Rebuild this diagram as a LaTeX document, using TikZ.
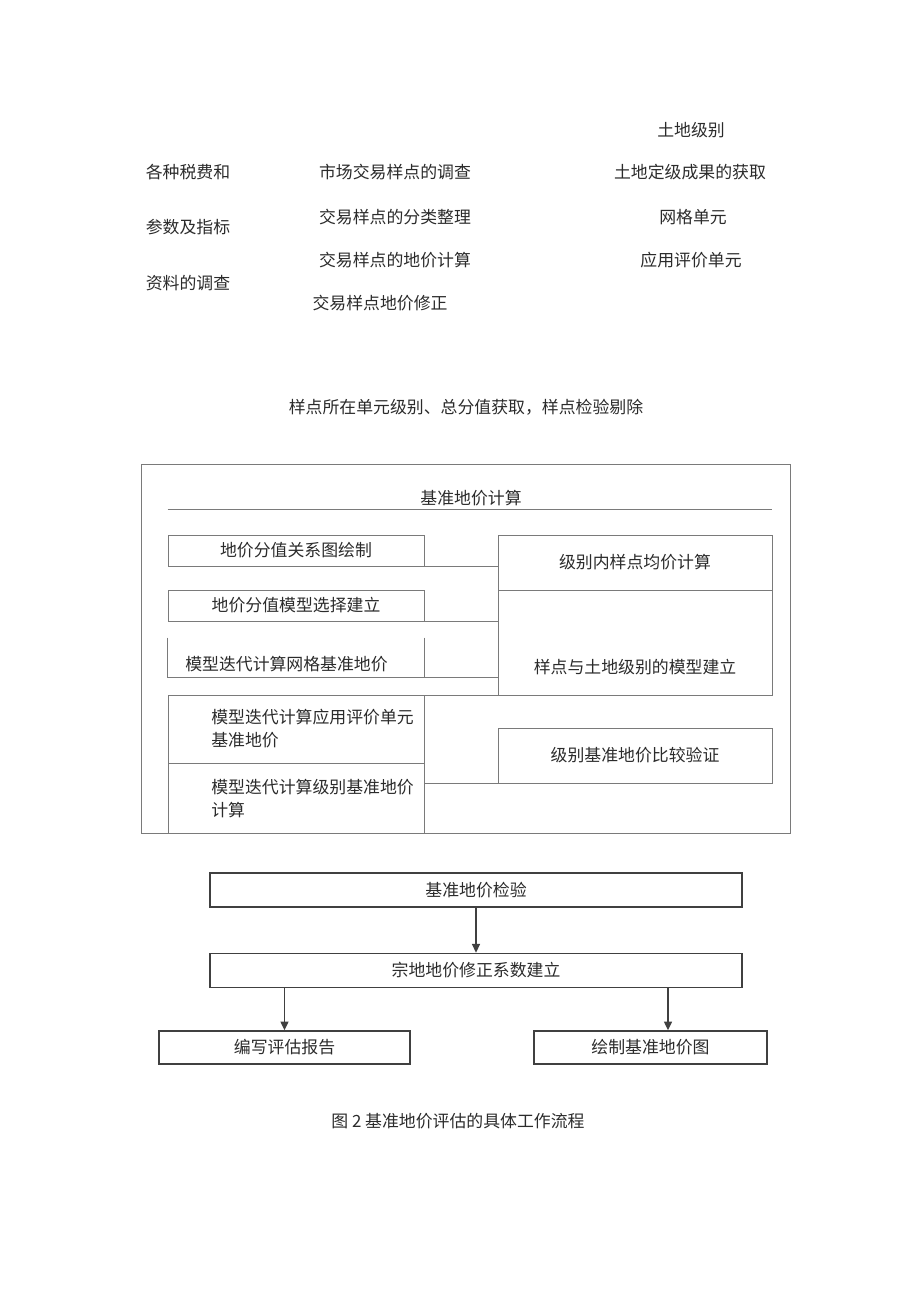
\documentclass[tikz,border=0pt]{standalone}
\usepackage{fontspec}
\setmainfont{Noto Sans CJK SC}
\usetikzlibrary{positioning}
\usetikzlibrary{arrows.meta}
\definecolor{linegray}{HTML}{7A7A7A}
\definecolor{textgray}{HTML}{2B2B2B}
\definecolor{boxgray}{HTML}{404040}
\tikzset{
  plain/.style={inner sep=0pt, text=textgray, font=\fontsize{12}{16.4}\selectfont},
  cell/.style={plain, draw=linegray, line width=0.6pt, rectangle},
  leftcell/.style={cell, minimum width=6.4cm},
  rightcell/.style={cell, minimum width=6.85cm},
  thinline/.style={draw=linegray, line width=0.6pt},
  flowbox/.style={plain, draw=boxgray, line width=1pt, rectangle, minimum height=0.85cm},
  flowarrow/.style={->, draw=boxgray, line width=1.1pt}
}
\begin{document}
\begin{tikzpicture}[x=0.025cm, y=-0.025cm, >={Triangle[width=0.2cm,length=0.22cm]}]
\useasboundingbox (0,0) rectangle (920,1303);
% preparation
\node[plain](lvl) at (691,130){土地级别};
\node[plain](fee1) at (188,172){各种税费和};
\node[plain](fee2) at (188,227){参数及指标};
\node[plain](fee3) at (188,283){资料的调查};
\node[plain](mkt1) at (395,172){市场交易样点的调查};
\node[plain](mkt2) at (395,217){交易样点的分类整理};
\node[plain](mkt3) at (395,260){交易样点的地价计算};
\node[plain](mkt4) at (380,303){交易样点地价修正};
\node[plain](res1) at (690,172){土地定级成果的获取};
\node[plain](res2) at (693,217){网格单元};
\node[plain](res3) at (691,260){应用评价单元};
\node[plain](pick) at (466,407){样点所在单元级别、总分值获取，样点检验剔除};
% calculation frame
\node[cell, minimum width=16.2cm, minimum height=9.225cm](frame) at (466,648.5){};
\node[plain](calc) at (471,498){基准地价计算};
\node[leftcell, minimum height=0.775cm](b1) at (296,550.5){地价分值关系图绘制};
\node[leftcell, minimum height=0.775cm](b2) at (296,605.5){地价分值模型选择建立};
\node[plain, minimum width=6.4cm, minimum height=0.975cm, text height=0.65cm, text depth=0pt](b3) at (296,657.5){模型迭代计算网格基准地价\hspace*{0.475cm}};
\node[leftcell, minimum height=1.7cm, align=left](b4) at (296,729){\hspace*{0.825cm}模型迭代计算应用评价单元\\\hspace*{0.825cm}基准地价};
\node[leftcell, minimum height=1.75cm, align=left](b5)[below=0pt of b4]{\hspace*{0.825cm}模型迭代计算级别基准地价\\\hspace*{0.825cm}计算};
\node[rightcell, minimum height=1.375cm](r1) at (635,562.5){级别内样点均价计算};
\node[rightcell, minimum height=2.625cm, text height=1.55cm, text depth=0pt](r2) at (635,642.5){样点与土地级别的模型建立};
\node[rightcell, minimum height=1.375cm](r3) at (635,755.5){级别基准地价比较验证};
\draw[thinline](b1.west |- 0,509)--(r1.east |- 0,509);
\draw[thinline](b1.south east)--(b1.south east -| r1.west);
\draw[thinline](b2.south east)--(b2.south east -| r2.west);
\draw[thinline](b3.north west)--(b3.south west)--(b3.south west -| r2.west);
\draw[thinline](b3.north east)--(b3.south east);
\draw[thinline](r2.south west)--(r2.south west -| b4.east);
\draw[thinline](r3.south west)--(r3.south west -| b4.east);
% checking and output
\node[flowbox, minimum width=13.3cm](chk) at (476,890){基准地价检验};
\node[flowbox, minimum width=13.3cm](corr)[below=1.125cm of chk]{宗地地价修正系数建立};
\node[flowbox, minimum width=6.275cm, minimum height=0.825cm](rpt) at (284.5,1047.5){编写评估报告};
\node[flowbox, minimum width=5.825cm, minimum height=0.825cm](map) at (650.5,1047.5){绘制基准地价图};
\draw[flowarrow](chk)--(corr);
\draw[flowarrow](corr.south -| rpt)--(rpt);
\draw[flowarrow](corr.south -| 668,0)--(map.north -| 668,0);
\node[plain](cap) at (458,1121){图 2 基准地价评估的具体工作流程};
\end{tikzpicture}
\end{document}
